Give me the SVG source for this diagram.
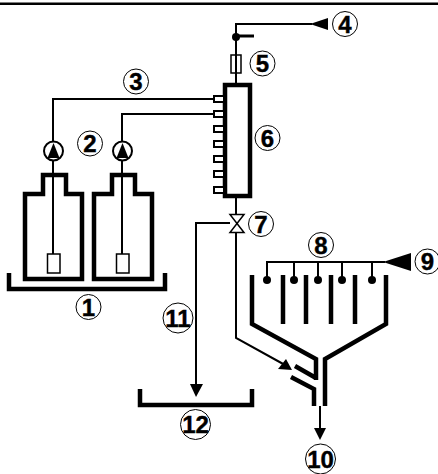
<svg xmlns="http://www.w3.org/2000/svg" width="438" height="474" viewBox="0 0 438 474">
<style>
.lbl circle{fill:#fff;stroke:#000;stroke-width:1}
.lbl text{font-family:"Liberation Sans",Arial,sans-serif;font-weight:bold;font-size:24px;text-anchor:middle;fill:#000;stroke:#000;stroke-width:.4}
.thick{fill:none;stroke:#000;stroke-width:4.500}
.thin{fill:none;stroke:#000;stroke-width:2}
.box{fill:#fff;stroke:#000;stroke-width:1.500}
.port{fill:#fff;stroke:#000;stroke-width:2}
.solid{fill:#000;stroke:none}
</style>
<rect x="0" y="2.500" width="438" height="2.500" fill="#000"/>
<g id="connectors">
<path class="thin" d="M53 150V99H214M122 150V114H214"/>
<path class="thin" d="M236 198V214M236 233V338L285 365"/>
<path class="thin" d="M230 223H196V386"/>
<path class="thin" d="M320 406V430"/>
<path class="thin" d="M267 280V262H385M294 280V262M318 280V262M342 280V262M372 280V262"/>
<path class="thin" d="M53 150V254M122 150V254"/>
<polygon class="solid" points="310,24 328,18 328,30"/>
<polygon class="solid" points="383,262 411,253 411,271"/>
<polygon class="solid" points="196,397 190,384 203,384"/>
<polygon class="solid" points="320,440 314,428 326,428"/>
<polygon class="solid" points="292,370 286,359 278,369"/>
</g>
<g id="node-bottle-1"><path class="thick" d="M43 194H25V279H82V194H66V175H43Z"/><rect class="box" x="47.500" y="254" width="12.500" height="19"/></g>
<g id="node-bottle-2"><path class="thick" d="M112 194H94V279H152V194H135V175H112Z"/><rect class="box" x="116.500" y="254" width="12.500" height="19"/></g>
<g id="node-tray-1"><path class="thick" d="M9 273V289H165V273"/></g>
<g id="node-pump-1"><circle cx="53.500" cy="151" r="9.500" fill="#fff" stroke="#000" stroke-width="2"/><polygon class="solid" points="53.500,143 47.500,158 59.500,158"/></g>
<g id="node-pump-2"><circle cx="122.500" cy="151" r="9.500" fill="#fff" stroke="#000" stroke-width="2"/><polygon class="solid" points="122.500,143 116.500,158 128.500,158"/></g>
<g id="node-manifold">
<rect class="thick" x="225" y="85" width="25" height="111" fill="#fff"/>
<rect class="port" x="214" y="96" width="10" height="6"/>
<rect class="port" x="214" y="111" width="10" height="6"/>
<rect class="port" x="214" y="126" width="10" height="6"/>
<rect class="port" x="214" y="141" width="10" height="6"/>
<rect class="port" x="214" y="156" width="10" height="6"/>
<rect class="port" x="214" y="171" width="10" height="6"/>
<rect class="port" x="214" y="187" width="10" height="6"/>
</g>
<g id="node-filter"><rect class="box" x="231" y="55" width="10" height="18"/><path class="thin" d="M236 83V24H312"/><circle cx="236" cy="37" r="4" fill="#000"/><path d="M236 36H254" stroke="#000" stroke-width="3"/></g>
<g id="node-valve"><path d="M230 214.500H244L230 232.500H244Z" fill="#fff" stroke="#000" stroke-width="1.500"/></g>
<g id="node-sprayer">
<circle cx="267" cy="280" r="4"/><circle cx="294" cy="280" r="4"/><circle cx="318" cy="280" r="4"/><circle cx="342" cy="280" r="4"/><circle cx="372" cy="280" r="4"/>
</g>
<g id="node-funnel">
<path class="thick" d="M252 275V324L316 359V380M386 275V324L325 359V406M291 377L314 389V406M295 366L316 378M283 275V324M306 275V324M331 275V324M355 275V324"/>
</g>
<g id="node-tray-2"><path class="thick" d="M140 389V405H252V389"/></g>
<g class="lbl" id="label-1"><circle cx="88.500" cy="307" r="12.500"/><text x="88.500" y="315.500">1</text></g>
<g class="lbl" id="label-2"><circle cx="90" cy="143.500" r="12.500"/><text x="90" y="152">2</text></g>
<g class="lbl" id="label-3"><circle cx="136" cy="81.500" r="12.500"/><text x="136" y="90">3</text></g>
<g class="lbl" id="label-4"><circle cx="345" cy="24" r="12.500"/><text x="345" y="32.500">4</text></g>
<g class="lbl" id="label-5"><circle cx="262.500" cy="63.500" r="12.500"/><text x="262.500" y="72">5</text></g>
<g class="lbl" id="label-6"><circle cx="267.500" cy="138" r="12.500"/><text x="267.500" y="146.500">6</text></g>
<g class="lbl" id="label-7"><circle cx="261" cy="224" r="12.500"/><text x="261" y="232.500">7</text></g>
<g class="lbl" id="label-8"><circle cx="321" cy="245" r="12.500"/><text x="321" y="253.500">8</text></g>
<g class="lbl" id="label-9"><circle cx="427.500" cy="261.500" r="12.500"/><text x="427.500" y="270">9</text></g>
<g class="lbl" id="label-10"><circle cx="320.500" cy="459" r="15"/><text x="320.500" y="467.500">10</text></g>
<g class="lbl" id="label-11"><circle cx="178" cy="318" r="15"/><text x="178" y="326.500">11</text></g>
<g class="lbl" id="label-12"><circle cx="195.500" cy="424.500" r="15"/><text x="195.500" y="433">12</text></g>
</svg>
